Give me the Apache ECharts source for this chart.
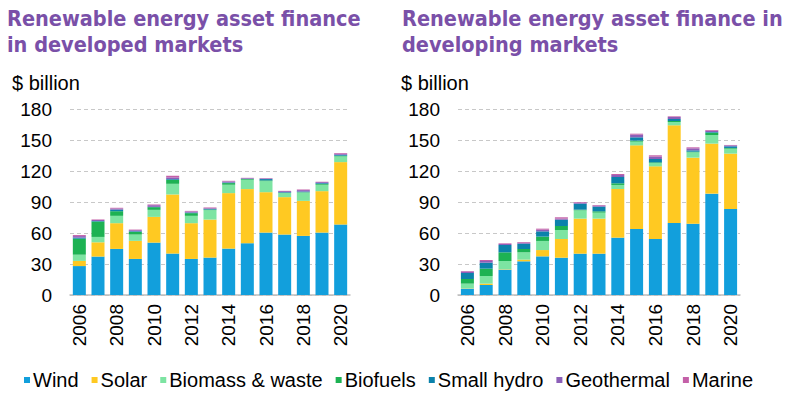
<!DOCTYPE html>
<html><head><meta charset="utf-8">
<script src="https://cdn.jsdelivr.net/npm/echarts@6/dist/echarts.min.js"></script>
<style>html,body{margin:0;padding:0;background:#fff}#c{width:792px;height:395px}</style>
</head><body><div id="c"></div>
<script>
const years = ['2006','2007','2008','2009','2010','2011','2012','2013','2014','2015','2016','2017','2018','2019','2020'];
const seriesNames = ['Wind','Solar','Biomass & waste','Biofuels','Small hydro','Geothermal','Marine'];
const colors = ['#129fdc','#ffc922','#7de4a2','#1db253','#0b82ab','#8c5fb8','#c460a8'];

// Developed markets ($ billion)
const devWind     = [28, 37.2, 44.6, 34.9, 50.7, 40.1, 34.9, 36.2, 44.9, 50.1, 60.4, 58.5, 57.2, 60.4, 68.2];
const devSolar    = [5, 13.8, 24.9, 17.5, 24.9, 57.2, 34.6, 36.8, 53.7, 52.4, 39.1, 36.2, 33.9, 40.1, 60.4];
const devBiomass  = [6, 5.2, 7.1, 6.1, 6.8, 10.3, 7.1, 9.1, 8.1, 9, 10.7, 3.9, 8.1, 6.2, 5.5];
const devBiofuels = [15.5, 14.9, 4.5, 2.6, 2.6, 3.9, 2.6, 0.6, 1.6, 0.7, 0.7, 0.3, 0.3, 0.9, 0.7];
const devHydro    = [1, 0.5, 1.6, 0.6, 0.3, 0.7, 0.6, 0.7, 0.6, 0.3, 1.3, 0.6, 0.7, 0.7, 0.9];
const devGeo      = [1.5, 1, 1, 1, 1.6, 1.6, 1, 0.6, 1, 0.6, 0.6, 1, 1.3, 0.9, 1];
const devMarine   = [1, 0.5, 0.7, 0.6, 0.7, 1.6, 0.6, 0.7, 0.6, 0.3, 0.3, 0.3, 0.6, 0.4, 0.7];

// Developing markets ($ billion)
const dvgWind     = [6.1, 9.7, 24.5, 32.6, 37.4, 36.1, 40, 40, 55.5, 63.9, 54.2, 69.7, 69, 98.1, 83.2];
const dvgSolar    = [0.3, 1.3, 0.4, 1.6, 6.1, 18.1, 33.9, 33.9, 47.1, 80.9, 70.3, 94.5, 63.9, 48.4, 53.6];
const dvgBiomass  = [4.6, 7.4, 8, 7.1, 8.8, 8.7, 8, 5.8, 3.9, 3.6, 3.2, 3.2, 5.2, 8.3, 4.8];
const dvgBiofuels = [4.5, 7.1, 8.4, 3.2, 4.2, 3.9, 0.7, 1.3, 1.6, 1, 0.7, 1, 0.6, 2.3, 0.7];
const dvgHydro    = [5.8, 5.8, 7.1, 5.2, 5.1, 6.1, 5.8, 4.5, 6.1, 3.2, 3.2, 1.9, 1.3, 0.6, 1.6];
const dvgGeo      = [1.3, 1.6, 1, 0.9, 1.6, 1, 1, 1, 1.9, 2.6, 2.3, 2, 1.9, 1.3, 0.9];
const dvgMarine   = [0.6, 1, 0.6, 0.7, 1, 1.3, 0.6, 0.6, 1, 0.9, 1.3, 0.6, 1, 0.7, 0.4];

const yTicks = {min: 0, max: 180, interval: 30};
const leftTitle = 'Renewable energy asset finance\nin developed markets';
const rightTitle = 'Renewable energy asset finance in\ndeveloping markets';
const unitLabel = '$ billion';

const devData = [devWind, devSolar, devBiomass, devBiofuels, devHydro, devGeo, devMarine];
const dvgData = [dvgWind, dvgSolar, dvgBiomass, dvgBiofuels, dvgHydro, dvgGeo, dvgMarine];

const FONT = "'Liberation Sans', Arial, sans-serif";
const TFONT = "'Liberation Sans Narrow', 'DejaVu Sans Condensed', sans-serif";

function xAxis(gi) {
  return {
    type: 'category', gridIndex: gi, data: years,
    axisLine: {lineStyle: {color: '#bdbdbd', width: 1.5}},
    axisTick: {alignWithLabel: false, length: 6, lineStyle: {color: '#bdbdbd', width: 1.5}},
    axisLabel: {rotate: 90, interval: 1, margin: 9, color: '#000', fontFamily: FONT, fontSize: 19}
  };
}
function yAxis(gi) {
  return {
    type: 'value', gridIndex: gi, min: yTicks.min, max: yTicks.max, interval: yTicks.interval,
    axisLine: {show: false}, axisTick: {show: false},
    axisLabel: {margin: 18, color: '#000', fontFamily: FONT, fontSize: 19},
    splitLine: {lineStyle: {color: '#c8c8c8', type: [4, 3], width: 1}}
  };
}
const series = [];
[devData, dvgData].forEach((data, gi) => {
  data.forEach((vals, si) => {
    series.push({
      name: seriesNames[si], type: 'bar', stack: 's' + gi,
      xAxisIndex: gi, yAxisIndex: gi, data: vals,
      barWidth: 13, itemStyle: {color: colors[si]}
    });
  });
});

const chart = echarts.init(document.getElementById('c'), null, {renderer: 'svg'});
chart.setOption({
  animation: false,
  color: colors,
  title: [
    {text: leftTitle, left: 7, top: 5, padding: 0,
     textStyle: {color: '#7a50a8', fontFamily: TFONT, fontWeight: 'bold', fontSize: 21.5, lineHeight: 26}},
    {text: rightTitle, left: 402, top: 5, padding: 0,
     textStyle: {color: '#7a50a8', fontFamily: TFONT, fontWeight: 'bold', fontSize: 21.5, lineHeight: 26}},
    {text: unitLabel, left: 12, top: 73, padding: 0,
     textStyle: {color: '#000', fontFamily: FONT, fontWeight: 'normal', fontSize: 20}},
    {text: unitLabel, left: 401, top: 73, padding: 0,
     textStyle: {color: '#000', fontFamily: FONT, fontWeight: 'normal', fontSize: 20}}
  ],
  legend: {
    data: seriesNames, left: 24, top: 370, icon: 'rect', itemWidth: 6, itemHeight: 6,
    itemGap: 13, padding: 0,
    textStyle: {color: '#000', fontFamily: FONT, fontSize: 20, padding: [0, 0, 0, -2]}
  },
  grid: [
    {left: 70, width: 280, top: 109, height: 186},
    {left: 458, width: 282, top: 109, height: 186}
  ],
  xAxis: [xAxis(0), xAxis(1)],
  yAxis: [yAxis(0), yAxis(1)],
  series: series
});
</script></body></html>
